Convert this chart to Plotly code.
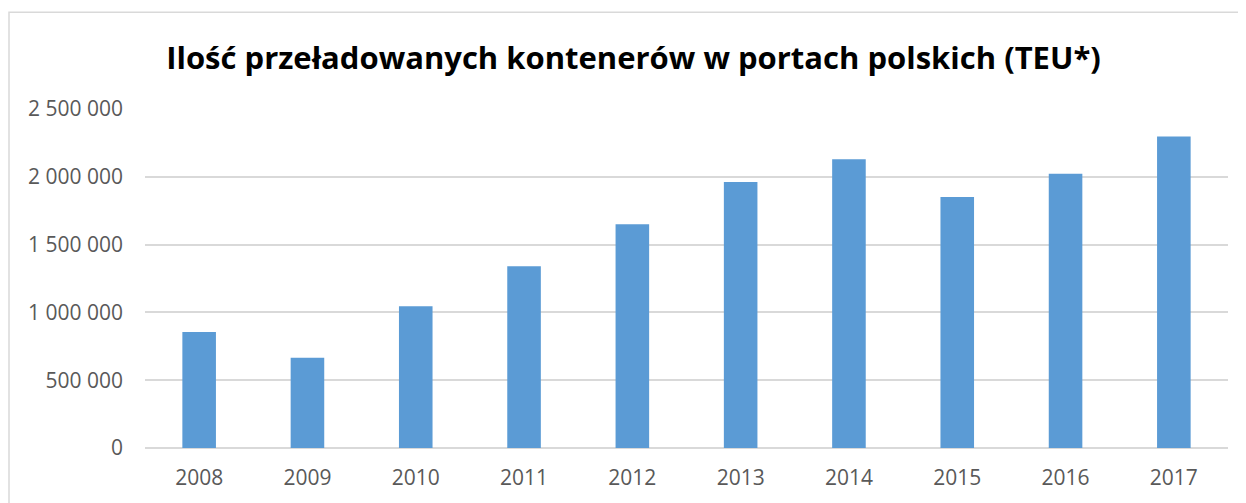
import plotly.graph_objects as go

years = ["2008", "2009", "2010", "2011", "2012", "2013", "2014", "2015", "2016", "2017"]
teu = [855000, 665000, 1046000, 1340000, 1650000, 1962000, 2130000, 1851000, 2022000, 2298000]
title_text = "Ilość przeładowanych kontenerów w portach polskich (TEU*)"

# the page body adds an 8px offset; the figure is sized to fit the remaining window
W, H = 1238, 495
ml, mr, mt, mb = 137, 18, 101, 51
pw, ph = W - ml - mr, H - mt - mb

fig = go.Figure(go.Bar(x=years, y=teu, marker=dict(color="#5B9BD5", line=dict(width=0)), hoverinfo="x+y"))

fig.update_layout(
    width=W, height=H,
    margin=dict(l=ml, r=mr, t=mt, b=mb),
    paper_bgcolor="white", plot_bgcolor="white",
    separators=", ",
    bargap=0.69,
    showlegend=False,
    title=dict(text="<b>" + title_text + "</b>", x=(625.5 - ml) / pw, xref="paper", xanchor="center",
               y=1 - 50 / H, yanchor="middle", yref="container",
               font=dict(family="Open Sans", size=31, color="black")),
    font=dict(family="Open Sans", size=21, color="#595959"),
)
fig.update_yaxes(range=[0, 2500000], dtick=500000, tickformat=",d",
                 showgrid=True, gridcolor="#D9D9D9", gridwidth=1.5,
                 zeroline=True, zerolinecolor="#D9D9D9", zerolinewidth=1.5,
                 showline=False, ticks="", ticklabelstandoff=21,
                 tickfont=dict(family="Open Sans", size=21, color="#595959"))
fig.update_xaxes(showgrid=False, showline=False, ticks="", ticklabelstandoff=15,
                 tickfont=dict(family="Open Sans", size=21, color="#595959"))

# chart frame
fig.add_shape(type="rect", xref="paper", yref="paper",
              x0=(1 - ml) / pw, x1=(W + 20 - ml) / pw,
              y0=(mt + ph - (H + 20)) / ph, y1=(mt + ph - 3) / ph,
              line=dict(color="#D9D9D9", width=1.5), fillcolor="rgba(0,0,0,0)", layer="below")

fig.write_html("out.html")
